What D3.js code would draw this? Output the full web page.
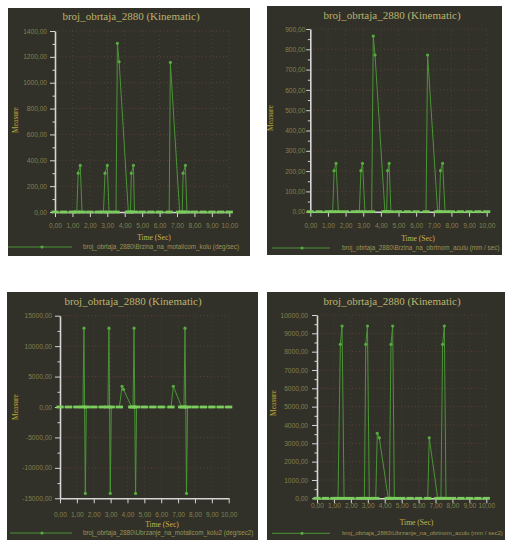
<!DOCTYPE html>
<html>
<head>
<meta charset="utf-8">
<script src="https://cdn.jsdelivr.net/npm/d3@7"></script>
<style>
  html, body { margin: 0; padding: 0; background: #ffffff; }
  svg { display: block; }
</style>
</head>
<body>
<svg id="chart" width="505" height="540"></svg>
<script>
// ---- shared labels ----
const chartTitle = "broj_obrtaja_2880 (Kinematic)";
const xAxisTitle = "Time (Sec)";
const yAxisTitle = "Measure";
const timeTicks = [0, 1, 2, 3, 4, 5, 6, 7, 8, 9, 10];

// ---- angular velocity of the crank wheel ----
const brzinaKoloTime  = [0, 0.5, 1.0, 1.25, 1.33, 1.45, 1.55, 2.0, 2.5, 2.78, 2.87, 3.0, 3.1, 3.5, 3.58, 3.68, 4.21, 4.33, 4.38, 4.5, 4.56, 5.0, 5.5, 6.0, 6.55, 6.62, 7.15, 7.3, 7.35, 7.48, 7.57, 8.0, 8.5, 9.0, 9.5, 10.0];
const brzinaKoloValue = [0, 0, 0, 0, 300, 360, 0, 0, 0, 0, 300, 360, 0, 0, 1305, 1162, 0, 0, 300, 360, 0, 0, 0, 0, 0, 1157, 0, 0, 300, 360, 0, 0, 0, 0, 0, 0];
const brzinaKoloTicks = [0, 200, 400, 600, 800, 1000, 1200, 1400];
const brzinaKoloLegend = "broj_obrtaja_2880\\Brzina_na_motalicom_kolu (deg/sec)";

// ---- linear velocity of the rotating axle ----
const brzinaAksTime  = [0, 0.5, 1.0, 1.27, 1.35, 1.46, 1.59, 2.0, 2.5, 2.78, 2.87, 2.96, 3.1, 3.48, 3.57, 3.67, 4.23, 4.33, 4.38, 4.47, 4.57, 5.0, 5.5, 6.0, 6.56, 6.65, 7.22, 7.31, 7.38, 7.5, 7.64, 8.0, 8.5, 9.0, 9.5, 10.0];
const brzinaAksValue = [0, 0, 0, 0, 202, 238, 0, 0, 0, 0, 202, 238, 0, 0, 865, 772, 0, 0, 202, 238, 0, 0, 0, 0, 0, 772, 0, 0, 202, 238, 0, 0, 0, 0, 0, 0];
const brzinaAksTicks = [0, 100, 200, 300, 400, 500, 600, 700, 800, 900];
const brzinaAksLegend = "broj_obrtaja_2880\\Brzina_na_obrtnom_aculu (mm / sec)";

// ---- angular acceleration of the crank wheel ----
const ubrzanjeKoloTime  = [0, 0.5, 1.0, 1.36, 1.42, 1.5, 1.56, 2.0, 2.5, 2.84, 2.9, 2.98, 3.04, 3.52, 3.68, 3.76, 4.25, 4.33, 4.39, 4.48, 4.54, 5.0, 5.5, 6.0, 6.58, 6.72, 7.21, 7.35, 7.41, 7.5, 7.56, 8.0, 8.5, 9.0, 9.5, 10.0];
const ubrzanjeKoloValue = [0, 0, 0, 0, 12950, -14200, 0, 0, 0, 0, 12950, -14200, 0, 0, 3400, 2900, 0, 0, 12950, -14200, 0, 0, 0, 0, 0, 3400, 0, 0, 12950, -14200, 0, 0, 0, 0, 0, 0];
const ubrzanjeKoloTicks = [-15000, -10000, -5000, 0, 5000, 10000, 15000];
const ubrzanjeKoloLegend = "broj_obrtaja_2880\\Ubrzanje_na_motalicom_kolu2 (deg/sec2)";

// ---- linear acceleration of the rotating axle ----
const ubrzanjeAksTime  = [0, 0.5, 1.0, 1.24, 1.38, 1.48, 1.6, 2.0, 2.5, 2.8, 2.88, 2.98, 3.09, 3.47, 3.56, 3.68, 4.21, 4.27, 4.37, 4.47, 4.57, 5.0, 5.5, 6.0, 6.54, 6.63, 7.13, 7.32, 7.42, 7.52, 7.62, 8.0, 8.5, 9.0, 9.5, 10.0];
const ubrzanjeAksValue = [0, 0, 0, 0, 8400, 9400, 0, 0, 0, 0, 8400, 9400, 0, 0, 3550, 3300, 0, 0, 8400, 9400, 0, 0, 0, 0, 0, 3300, 0, 0, 8400, 9400, 0, 0, 0, 0, 0, 0];
const ubrzanjeAksTicks = [0, 1000, 2000, 3000, 4000, 5000, 6000, 7000, 8000, 9000, 10000];
const ubrzanjeAksLegend = "broj_obrtaja_2880\\Ubrzanje_na_obrtnom_aculu (mm / sec2)";

// ---- colours ----
const C = {
  bg: "#31312a",
  axis: "#d6d6d6",
  tick: "#858049",
  title: "#bdb36a",
  axisTitle: "#c6b44c",
  measure: "#bba635",
  legend: "#9c9452",
  line: "#4a9436",
  marker: "#58aa40",
  base: "#7ccc5e",
  hgrid: "#5e4034",
  vgrid: "#44443a"
};

const fmt = d => d.toFixed(2).replace(".", ",");

// ---- panel layouts ----
const panels = [
  { id: "p1", box: [8, 8, 242, 248], xr: [55, 229.3], yr: [212, 31],
    time: brzinaKoloTime, value: brzinaKoloValue, ticks: brzinaKoloTicks, legend: brzinaKoloLegend,
    yPad: 3, yTick: 5, xLabelY: 226, titleXY: [131, 16], timeXY: [154, 237.5], measureXY: [15, 120],
    leg: { y: 247, x1: 5, x2: 72, m: 42, tx: 83 } },
  { id: "p2", box: [267, 6, 235, 249], xr: [310.3, 486.7], yr: [211.7, 29],
    time: brzinaAksTime, value: brzinaAksValue, ticks: brzinaAksTicks, legend: brzinaAksLegend,
    yPad: 1, yTick: 4, xLabelY: 225.3, titleXY: [392, 15], timeXY: [418, 238], measureXY: [270, 118],
    leg: { y: 248, x1: 272, x2: 330, m: 302, tx: 342 } },
  { id: "p3", box: [7, 292, 251, 248], xr: [60, 228.7], yr: [498.3, 315.7],
    time: ubrzanjeKoloTime, value: ubrzanjeKoloValue, ticks: ubrzanjeKoloTicks, legend: ubrzanjeKoloLegend,
    yPad: 3, yTick: 5, xLabelY: 514.3, titleXY: [133, 301], timeXY: [162, 524], measureXY: [15, 407],
    leg: { y: 533, x1: 10, x2: 72, m: 42, tx: 83 } },
  { id: "p4", box: [267, 292, 238, 248], xr: [317, 486.3], yr: [498.3, 315],
    time: ubrzanjeAksTime, value: ubrzanjeAksValue, ticks: ubrzanjeAksTicks, legend: ubrzanjeAksLegend,
    yPad: 4, yTick: 5, xLabelY: 505.7, titleXY: [392, 301], timeXY: [416.5, 522.7], measureXY: [273, 403],
    leg: { y: 533.3, x1: 272, x2: 330, m: 302, tx: 342 } }
];

const svg = d3.select("#chart");
const defs = svg.append("defs");

function drawPanel(p) {
  const [bx, by, bw, bh] = p.box;
  defs.append("clipPath").attr("id", "clip-" + p.id)
    .append("rect").attr("x", bx).attr("y", by).attr("width", bw).attr("height", bh);

  const g = svg.append("g").attr("clip-path", `url(#clip-${p.id})`);
  g.append("rect").attr("x", bx).attr("y", by).attr("width", bw).attr("height", bh).attr("fill", C.bg);

  const yMin = d3.min(p.ticks), yMax = d3.max(p.ticks);
  const x = d3.scaleLinear().domain([0, 10]).range(p.xr);
  const y = d3.scaleLinear().domain([yMin, yMax]).range(p.yr);
  const step = p.ticks[1] - p.ticks[0];
  const minorY = p.ticks.slice(0, -1).map(t => t + step / 2);

  // dotted grid
  g.append("g").selectAll("line").data(p.ticks.filter(t => t !== yMin)).join("line")
    .attr("x1", x(0)).attr("x2", x(10)).attr("y1", d => y(d)).attr("y2", d => y(d))
    .attr("stroke", C.hgrid).attr("stroke-width", 1).attr("stroke-dasharray", "1,2.5");
  g.append("g").selectAll("line").data(timeTicks.slice(1)).join("line")
    .attr("x1", d => x(d)).attr("x2", d => x(d)).attr("y1", y(yMin)).attr("y2", y(yMax))
    .attr("stroke", C.vgrid).attr("stroke-width", 1).attr("stroke-dasharray", "1,3");

  // y axis
  const ya = g.append("g").attr("transform", `translate(${x(0)},0)`)
    .call(d3.axisLeft(y).tickValues(p.ticks).tickSize(p.yTick).tickSizeOuter(0).tickPadding(p.yPad).tickFormat(fmt));
  const yMinorAxis = g.append("g").attr("transform", `translate(${x(0)},0)`)
    .call(d3.axisLeft(y).tickValues(minorY).tickSize(2.5).tickFormat(""));
  yMinorAxis.select(".domain").remove();

  // x axis along the bottom of the plot
  const xa = g.append("g").attr("transform", `translate(0,${y(yMin)})`)
    .call(d3.axisBottom(x).tickValues(timeTicks).tickSize(5).tickSizeOuter(0).tickFormat(fmt));
  xa.selectAll(".tick text").attr("y", p.xLabelY - y(yMin)).attr("dy", "0.35em");

  [ya, yMinorAxis, xa].forEach(a => {
    a.select(".domain").attr("stroke", C.axis).attr("stroke-width", 1.6);
    a.selectAll(".tick line").attr("stroke", C.axis).attr("stroke-width", 1);
    a.selectAll(".tick text").attr("fill", C.tick)
      .style("font-family", "'Liberation Sans', Arial, sans-serif").style("font-size", "6.6px");
  });

  // series line
  const idx = d3.range(p.time.length);
  const line = d3.line().x(i => x(p.time[i])).y(i => y(p.value[i]));
  g.append("path").datum(idx).attr("d", line)
    .attr("fill", "none").attr("stroke", C.line).attr("stroke-width", 1).attr("stroke-linejoin", "round");

  // sample markers: resting samples as dashes, moving samples as dots
  g.append("g").selectAll("rect").data(idx.filter(i => p.value[i] === 0)).join("rect")
    .attr("x", i => x(p.time[i]) - 3.6).attr("y", i => y(0) - 1.4)
    .attr("width", 7.2).attr("height", 2.8).attr("fill", C.base);
  g.append("g").selectAll("circle").data(idx.filter(i => p.value[i] !== 0)).join("circle")
    .attr("cx", i => x(p.time[i])).attr("cy", i => y(p.value[i])).attr("r", 1.6)
    .attr("fill", C.marker);

  // titles
  g.append("text").attr("x", p.titleXY[0]).attr("y", p.titleXY[1]).attr("dy", "0.35em")
    .attr("text-anchor", "middle").attr("fill", C.title)
    .style("font-family", "'Liberation Serif', 'Times New Roman', serif").style("font-size", "11px")
    .text(chartTitle);
  g.append("text").attr("x", p.timeXY[0]).attr("y", p.timeXY[1]).attr("dy", "0.35em")
    .attr("text-anchor", "middle").attr("fill", C.axisTitle)
    .style("font-family", "'Liberation Serif', 'Times New Roman', serif").style("font-size", "7.6px")
    .text(xAxisTitle);
  g.append("text").attr("transform", `translate(${p.measureXY[0]},${p.measureXY[1]}) rotate(-90)`)
    .attr("dy", "0.35em").attr("text-anchor", "middle").attr("fill", C.measure)
    .style("font-family", "'Liberation Serif', 'Times New Roman', serif").style("font-size", "7.5px")
    .text(yAxisTitle);

  // legend (text shrinks if it would run past the panel edge)
  const L = p.leg;
  g.append("line").attr("x1", L.x1).attr("x2", L.x2).attr("y1", L.y).attr("y2", L.y)
    .attr("stroke", C.line).attr("stroke-width", 1);
  g.append("circle").attr("cx", L.m).attr("cy", L.y).attr("r", 1.6).attr("fill", C.marker);
  const lt = g.append("text").attr("x", L.tx).attr("y", L.y).attr("dy", "0.35em").attr("fill", C.legend)
    .style("font-family", "'Liberation Sans', Arial, sans-serif").style("font-size", "6.3px")
    .text(p.legend);
  const room = bx + bw - 2 - L.tx;
  const w = lt.node().getComputedTextLength();
  if (w > room) lt.style("font-size", (6.3 * room / w).toFixed(2) + "px");
}

panels.forEach(drawPanel);
</script>
</body>
</html>
